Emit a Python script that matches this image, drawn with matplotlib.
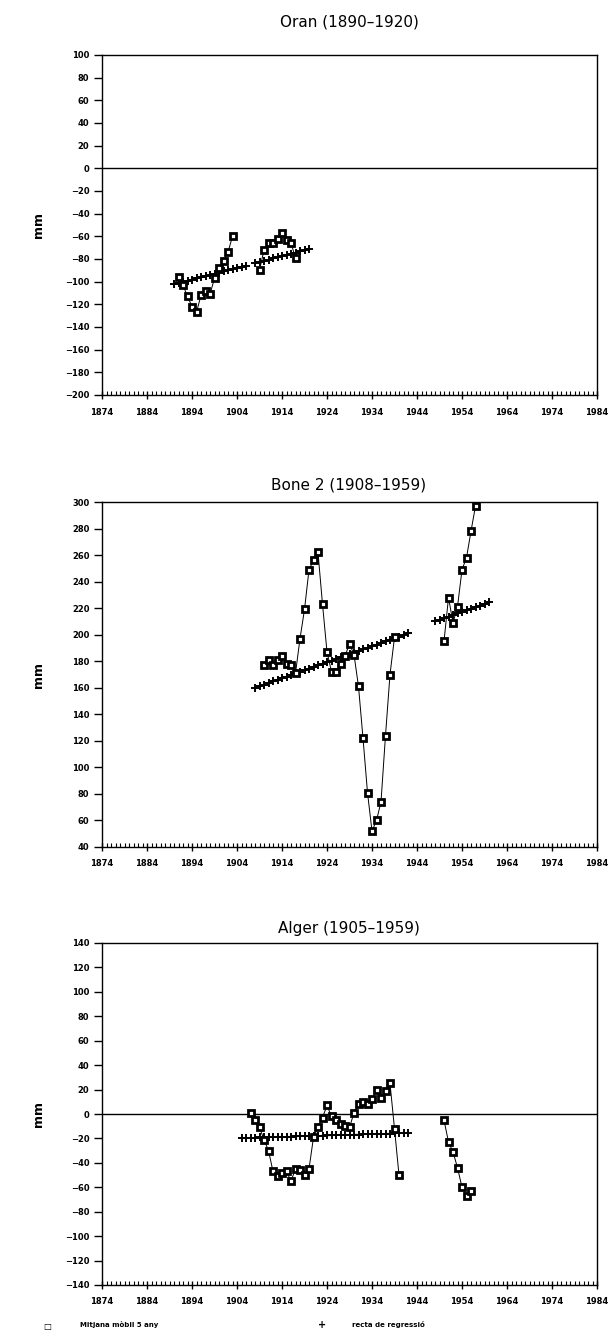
import matplotlib
matplotlib.use("Agg")
import matplotlib.pyplot as plt
from matplotlib.ticker import MultipleLocator

# Oran (1890-1920)
oran_ma_years_a = [1891, 1892, 1893, 1894, 1895, 1896, 1897, 1898, 1899, 1900, 1901, 1902, 1903]
oran_ma_a = [-96, -103, -113, -122, -127, -112, -108, -111, -97, -88, -82, -74, -60]
oran_ma_years_b = [1909, 1910, 1911, 1912, 1913, 1914, 1915, 1916, 1917]
oran_ma_b = [-90, -72, -66, -66, -62, -57, -63, -66, -79]
oran_reg_years_a = list(range(1890, 1907))
oran_reg_a = [-102.4, -101.4, -100.3, -99.3, -98.2, -97.2, -96.2, -95.1, -94.1,
              -93.0, -92.0, -91.0, -89.9, -88.9, -87.8, -86.8, -85.8]
oran_reg_years_b = list(range(1908, 1921))
oran_reg_b = [-83.7, -82.6, -81.6, -80.6, -79.5, -78.5, -77.4, -76.4, -75.4,
              -74.3, -73.3, -72.2, -71.2]

# Bone 2 (1908-1959)
bone_ma_years_a = list(range(1910, 1940))
bone_ma_a = [177, 181, 177, 181, 184, 178, 177, 171, 197, 219,
             249, 256, 262, 223, 187, 172, 172, 178, 184, 193,
             185, 161, 122, 81, 52, 60, 74, 124, 170, 198]
bone_ma_years_b = list(range(1950, 1958))
bone_ma_b = [195, 228, 209, 221, 249, 258, 278, 297]
bone_reg_years_a = list(range(1908, 1943))
bone_reg_a = [160.0, 161.2, 162.4, 163.6, 164.8, 166.0, 167.2, 168.4, 169.6, 170.9,
              172.1, 173.3, 174.5, 175.7, 176.9, 178.1, 179.3, 180.5, 181.7, 182.9,
              184.1, 185.3, 186.5, 187.7, 189.0, 190.2, 191.4, 192.6, 193.8, 195.0,
              196.2, 197.4, 198.6, 199.8, 201.0]
bone_reg_years_b = list(range(1948, 1961))
bone_reg_b = [210.0, 211.2, 212.4, 213.6, 214.8, 216.0, 217.2, 218.4, 219.6,
              220.8, 222.0, 223.2, 224.4]

# Alger (1905-1959)
alger_ma_years_a = list(range(1907, 1941))
alger_ma_a = [1, -5, -11, -21, -30, -47, -51, -48, -47, -55,
              -45, -46, -50, -45, -19, -11, -3, 7, -2, -5,
              -8, -10, -11, 1, 8, 10, 8, 12, 20, 13,
              19, 25, -12, -50]
alger_ma_years_b = list(range(1950, 1957))
alger_ma_b = [-5, -23, -31, -44, -60, -67, -63]
alger_reg_years = list(range(1905, 1943))
alger_reg = [-19.7, -19.6, -19.5, -19.4, -19.2, -19.1, -19.0, -18.9, -18.8, -18.7,
             -18.6, -18.5, -18.4, -18.2, -18.1, -18.0, -17.9, -17.8, -17.7, -17.6,
             -17.5, -17.4, -17.3, -17.1, -17.0, -16.9, -16.8, -16.7, -16.6, -16.5,
             -16.4, -16.3, -16.1, -16.0, -15.9, -15.8, -15.7, -15.6]

year_ticks = list(range(1874, 1985, 10))

W, H = 616, 1343
LEFT, RIGHT = 102, 597


def add_panel(fig, top, bottom, title, title_y, ylim, ystep, ma_parts, reg_parts, zero_line):
    ax = fig.add_axes([LEFT / W, 1 - bottom / H, (RIGHT - LEFT) / W, (bottom - top) / H])

    if zero_line:
        ax.axhline(0, color='black', lw=1.0, zorder=1)

    # regression lines drawn as '+' at every year
    for yrs, vals in reg_parts:
        ax.plot(yrs, vals, color='black', lw=1.0, marker='+', ms=6, mew=1.4, zorder=2)
    # 5-year moving average
    for yrs, vals in ma_parts:
        ax.plot(yrs, vals, color='black', lw=0.7, marker='s', ms=4.5, mfc='white',
                mec='black', mew=2.0, zorder=3)

    ax.set_xlim(1874, 1984)
    ax.set_ylim(*ylim)
    ax.set_xticks(year_ticks)
    ax.xaxis.set_minor_locator(MultipleLocator(1))
    ax.yaxis.set_major_locator(MultipleLocator(ystep))
    ax.tick_params(axis='x', which='major', direction='inout', length=6, width=1,
                   labelsize=6, pad=6)
    ax.tick_params(axis='x', which='minor', direction='in', length=3, width=0.8)
    ax.tick_params(axis='y', which='major', direction='out', length=6, width=1,
                   labelsize=6, pad=3)
    for lab in ax.get_xticklabels() + ax.get_yticklabels():
        lab.set_fontweight('bold')
    for sp in ax.spines.values():
        sp.set_linewidth(1.0)

    ax.set_ylabel('mm', fontsize=9, fontweight='bold')
    ax.yaxis.set_label_coords(-0.115, 0.5)

    fig.text(349 / W, 1 - title_y / H, title, ha='center', va='center', fontsize=11)
    return ax


fig = plt.figure(figsize=(W / 100, H / 100), dpi=100)

add_panel(fig, 55, 395, 'Oran (1890–1920)', 22, (-200, 100), 20,
          [(oran_ma_years_a, oran_ma_a), (oran_ma_years_b, oran_ma_b)],
          [(oran_reg_years_a, oran_reg_a), (oran_reg_years_b, oran_reg_b)], True)

add_panel(fig, 502, 847, 'Bone 2 (1908–1959)', 485, (40, 300), 20,
          [(bone_ma_years_a, bone_ma_a), (bone_ma_years_b, bone_ma_b)],
          [(bone_reg_years_a, bone_reg_a), (bone_reg_years_b, bone_reg_b)], False)

add_panel(fig, 943, 1285, 'Alger (1905–1959)', 928, (-140, 140), 20,
          [(alger_ma_years_a, alger_ma_a), (alger_ma_years_b, alger_ma_b)],
          [(alger_reg_years, alger_reg)], True)

# legend line at the bottom
fig.text(47 / W, 1 - 1326 / H, '□', fontsize=6, fontweight='bold', va='center', ha='center')
fig.text(80 / W, 1 - 1325 / H, 'Mitjana mòbil 5 any', fontsize=5, fontweight='bold', va='center')
fig.text(322 / W, 1 - 1325 / H, '+', fontsize=7, fontweight='bold', va='center', ha='center')
fig.text(352 / W, 1 - 1325 / H, 'recta de regressió', fontsize=5, fontweight='bold', va='center')

fig.savefig('out.png', dpi=100)
